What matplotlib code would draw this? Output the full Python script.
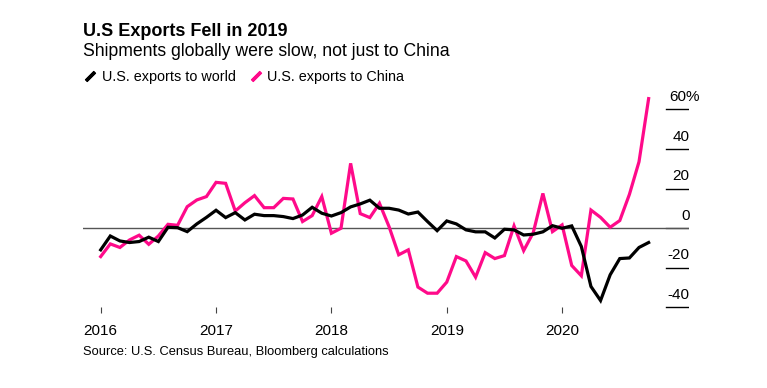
import numpy as np
import matplotlib.pyplot as plt
from matplotlib.lines import Line2D

plt.rcParams['font.family'] = ['Liberation Sans', 'DejaVu Sans']

# Monthly YoY change (%), Jan 2016 - Oct 2020
world = [-10.9, -3.9, -6.4, -7.2, -6.7, -4.5, -6.7, 0.5, 0.3, -1.7,
         2.2, 5.5, 9.1, 5.4, 7.9, 4.2, 7.1, 6.4, 6.4, 5.9,
         4.9, 6.7, 10.6, 7.6, 6.2, 7.9, 10.8, 12.3, 14.2, 10.1,
         10.1, 9.2, 7.2, 8.2, 3.4, -1.2, 3.7, 2.2, -0.8, -1.8,
         -1.8, -4.9, -0.5, -0.8, -3.4, -3.0, -1.8, 1.3, 0.0, 1.2,
         -9.2, -29.4, -36.5, -23.5, -15.3, -15.0, -9.7, -7.2]
china = [-14.3, -7.9, -9.7, -5.9, -3.5, -8.1, -3.9, 2.0, 1.5, 10.9,
         14.3, 16.0, 23.2, 22.7, 8.7, 12.9, 16.5, 10.4, 10.4, 15.1,
         14.8, 3.4, 6.4, 16.0, -2.5, 0.0, 32.8, 7.4, 5.4, 12.6,
         0.8, -13.4, -10.9, -29.7, -32.8, -32.8, -27.2, -14.3, -16.5, -24.7,
         -12.3, -15.3, -13.8, 1.2, -11.3, -2.2, 17.6, -1.7, 1.7, -18.8,
         -24.0, 9.2, 5.5, 0.5, 3.9, 17.1, 33.6, 65.5]
years = ['2016', '2017', '2018', '2019', '2020']
yticks = [60, 40, 20, 0, -20, -40]

months = np.arange(len(world))
pink = '#ff0a8a'

fig = plt.figure(figsize=(7.67, 3.88), dpi=100)
ax = fig.add_axes([83 / 767, 1 - 313 / 388, (689 - 83) / 767, (313 - 89.7) / 388])

ax.axhline(0, color='#555555', lw=1, zorder=1)
for v in yticks:
    ax.axhline(v, xmin=0.962, xmax=1, color='black' if v != 0 else '#555555', lw=1)
    lab = f'{v}%' if v == 60 else str(v)
    # the % sign hangs past the right edge of the numbers
    ax.annotate(lab, xy=(1, v), xycoords=('axes fraction', 'data'),
                xytext=(7.5 if v == 60 else 0.5, 4), textcoords='offset points',
                ha='right', va='bottom', fontsize=11)

ax.plot(months, world, color='black', lw=2.3, solid_joinstyle='miter', zorder=3)
ax.plot(months, china, color=pink, lw=2.3, solid_joinstyle='miter', zorder=2)

ax.set_xlim(-1.84, 61.2)
ax.set_ylim(-42.8, 70)
ax.set_xticks(np.arange(len(years)) * 12)
ax.set_xticklabels(years, fontsize=11)
ax.tick_params(axis='x', direction='in', length=4.5, width=0.8, color='#444444', pad=8)
ax.set_yticks([])
for s in ax.spines.values():
    s.set_visible(False)

fig.text(83 / 767, 1 - 31 / 388, 'U.S Exports Fell in 2019', fontsize=13,
         fontweight='bold', va='center', ha='left')
fig.text(83 / 767, 1 - 52 / 388, 'Shipments globally were slow, not just to China',
         fontsize=12.7, va='center', ha='left')

handles = [Line2D([], [], color='black', ls='none', marker=(2, 2, -45), markersize=9, mew=2.5),
           Line2D([], [], color=pink, ls='none', marker=(2, 2, -45), markersize=9, mew=2.5)]
fig.legend(handles, ['U.S. exports to world', 'U.S. exports to China'],
           loc='center left', bbox_to_anchor=(77 / 767, 1 - 77 / 388), ncol=2,
           frameon=False, fontsize=10.4, handlelength=0.8, handletextpad=0.4,
           columnspacing=1.0, borderpad=0)

fig.text(83 / 767, 1 - 352 / 388, 'Source: U.S. Census Bureau, Bloomberg calculations',
         fontsize=9.3, va='center', ha='left')

fig.savefig('out.png', dpi=100)
